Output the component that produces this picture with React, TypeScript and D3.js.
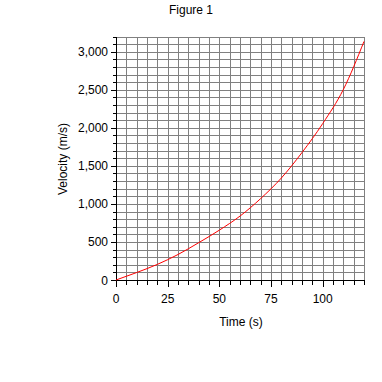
import React from "react";
import * as d3 from "d3";

const timeS = [0, 10, 20, 30, 40, 50, 60, 70, 80, 90, 100, 110, 120];
const velocity = [0, 98, 205, 335, 490, 655, 840, 1070, 1340, 1675, 2055, 2503, 3135];
const xTickLabels = [0, 25, 50, 75, 100];
const yTickLabels = [0, 500, 1000, 1500, 2000, 2500, 3000];
const title = "Figure 1";
const xTitle = "Time (s)";
const yTitle = "Velocity (m/s)";

const W = 382;
const H = 382;
const FONT = "'Liberation Sans', Arial, sans-serif";

export default function App() {
  const x = d3.scaleLinear().domain([0, 120]).range([116, 364]);
  const y = d3.scaleLinear().domain([0, 3200]).range([280, 36.5]);
  const px = (v: number) => Math.round(v) + 0.5;

  const xGrid = d3.range(0, 121, 5);
  const yGrid = d3.range(0, 3201, 100);
  const fmt = d3.format(",");

  const line = d3
    .line<number>()
    .x((_, i) => x(timeS[i]))
    .y((d) => y(d))
    .curve(d3.curveMonotoneX);

  const x0 = px(x(0));
  const y0 = px(y(0));
  const yTop = px(y(3200));
  const xRight = px(x(120));

  return (
    <svg
      width={W}
      height={H}
      style={{ position: "absolute", left: 0, top: 0, background: "#fff" }}
      fontFamily={FONT}
      fontSize={12}
    >
      <rect x={0} y={0} width={W} height={H} fill="#fff" />
      <text x={191} y={14} textAnchor="middle" fill="#000">
        {title}
      </text>
      {/* grid */}
      <g stroke="#808080" strokeWidth={1} shapeRendering="crispEdges">
        {xGrid.slice(1).map((t) => (
          <line key={"gx" + t} x1={px(x(t))} x2={px(x(t))} y1={yTop} y2={y0} />
        ))}
        {yGrid.slice(1).map((v) => (
          <line key={"gy" + v} x1={x0} x2={xRight} y1={px(y(v))} y2={px(y(v))} />
        ))}
      </g>
      {/* axes */}
      <g stroke="#000" strokeWidth={1} shapeRendering="crispEdges">
        <line x1={x0} x2={x0} y1={yTop} y2={y0} />
        <line x1={x0} x2={xRight} y1={y0} y2={y0} />
        {xGrid.map((t) => (
          <line
            key={"tx" + t}
            x1={px(x(t))}
            x2={px(x(t))}
            y1={y0}
            y2={y0 + (t % 25 === 0 ? 6 : 4)}
          />
        ))}
        {yGrid.map((v) => (
          <line
            key={"ty" + v}
            x1={x0 - (v % 500 === 0 ? 6 : 4)}
            x2={x0}
            y1={px(y(v))}
            y2={px(y(v))}
          />
        ))}
      </g>
      {/* tick labels */}
      <g fill="#000">
        {xTickLabels.map((t) => (
          <text key={"lx" + t} x={x(t)} y={303} textAnchor="middle">
            {t}
          </text>
        ))}
        {yTickLabels.map((v) => (
          <text key={"ly" + v} x={108} y={y(v) + 4.5} textAnchor="end">
            {fmt(v)}
          </text>
        ))}
      </g>
      <text x={241} y={326} textAnchor="middle" fill="#000">
        {xTitle}
      </text>
      <text
        transform={`translate(67,159) rotate(-90)`}
        textAnchor="middle"
        fill="#000"
      >
        {yTitle}
      </text>
      <path d={line(velocity) || ""} fill="none" stroke="#ff0000" strokeWidth={1} />
    </svg>
  );
}
